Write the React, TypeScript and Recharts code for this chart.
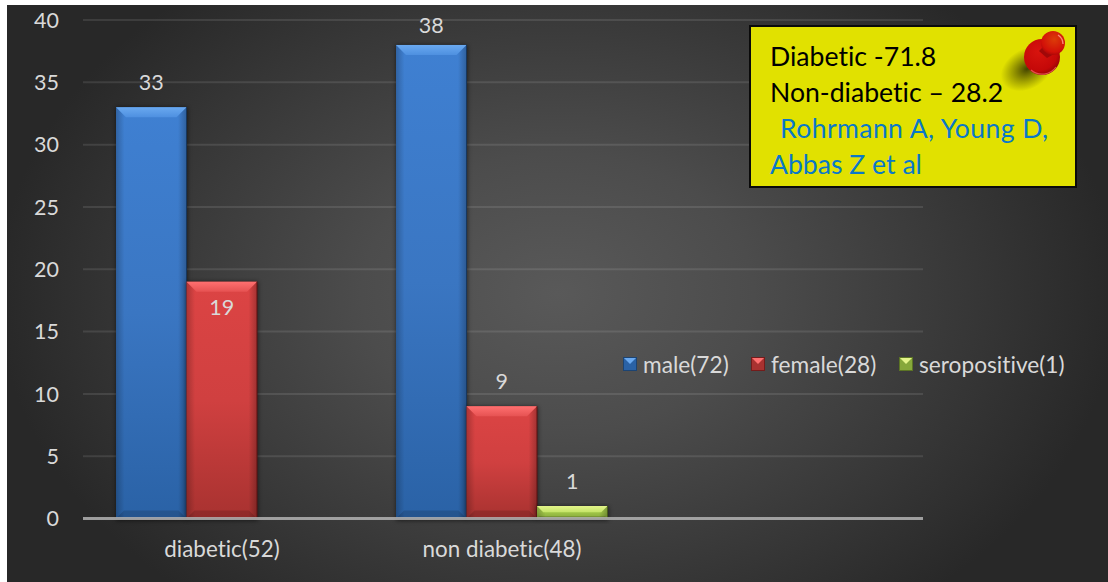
import React from 'react';
import { BarChart, Bar, XAxis, YAxis, CartesianGrid, LabelList, Legend } from 'recharts';

const categories = ['diabetic(52)', 'non diabetic(48)', ''];
const maleValues = [33, 38, null];
const femaleValues = [19, 9, null];
const seroValues = [null, 1, null];
const yTicks = [0, 5, 10, 15, 20, 25, 30, 35, 40];
const seriesNames = ['male(72)', 'female(28)', 'seropositive(1)'];
const noteLines = ['Diabetic -71.8', 'Non-diabetic – 28.2'];
const noteSource = ['Rohrmann A, Young D,', 'Abbas Z et al'];

const chartData = categories.map((name, i) => ({
  name,
  male: maleValues[i],
  female: femaleValues[i],
  sero: seroValues[i],
}));

const FONT = 'Lato, sans-serif';
const TEXT = '#d9d9d9';
const TICK_SIZE = 21.5;

const tones: Record<string, { top: string; mid: string; bottom: string; bevelA: string; bevelB: string; edge: string }> = {
  blue: { top: '#3f80d2', mid: '#3a76c2', bottom: '#2a62a6', bevelA: '#6aa9f0', bevelB: '#4e90e0', edge: '#17375e' },
  red: { top: '#dc4444', mid: '#d04040', bottom: '#a83230', bevelA: '#ff7070', bevelB: '#e65252', edge: '#5e1212' },
  green: { top: '#a9cf52', mid: '#a0c648', bottom: '#86a83a', bevelA: '#e4f58a', bevelB: '#c4e468', edge: '#4a5e1c' },
};

function BevelBar(props: any) {
  const { x, y, width, height, tone } = props;
  if (!height || height <= 0) return null;
  const c = tones[tone];
  const b = Math.min(10, height / 2);
  const bb = Math.min(8, height / 5);
  return (
    <g>
      <rect x={x} y={y} width={width + 1} height={height + 2} fill="#000" opacity={0.55} filter="url(#barShadow)" />
      <rect x={x} y={y} width={width} height={height} fill={`url(#body-${tone})`} />
      <rect x={x} y={y} width={width} height={height} fill="url(#sideShade)" />
      <polygon
        points={`${x},${y} ${x + width},${y} ${x + width - b},${y + b} ${x + b},${y + b}`}
        fill={`url(#bevel-${tone})`}
      />
      <polygon
        points={`${x},${y + height} ${x + width},${y + height} ${x + width - bb},${y + height - bb} ${x + bb},${y + height - bb}`}
        fill="#000"
        opacity={0.14}
      />
      <line x1={x + width} y1={y} x2={x + width} y2={y + height} stroke={c.edge} strokeWidth={1} />
    </g>
  );
}

// data labels sit above the bar, except where the original has them moved
function ValueLabel(props: any) {
  const { x, y, width, value } = props;
  if (value === null || value === undefined) return null;
  let cy = y - 25.5;
  if (value === 19) cy = y + 25;
  if (value === 38) cy = y - 20;
  return (
    <text
      x={x + width / 2}
      y={cy}
      textAnchor="middle"
      dominantBaseline="central"
      fill={TEXT}
      style={{ fontFamily: FONT, fontSize: TICK_SIZE, fontVariantLigatures: 'none' }}
    >
      {value}
    </text>
  );
}

function LegendSwatch({ tone }: { tone: string }) {
  const c = tones[tone];
  return (
    <svg width={14} height={14} style={{ display: 'block', flex: 'none' }}>
      <rect width={14} height={14} fill={c.bottom} />
      <rect x={0.5} y={0.5} width={13} height={13} fill="none" stroke={c.edge} strokeOpacity={0.7} />
      <polygon points="1,1 13,1 7,7" fill={c.bevelA} />
    </svg>
  );
}

function LegendContent() {
  const toneNames = ['blue', 'red', 'green'];
  const lefts = [0, 128, 276];
  return (
    <div style={{ position: 'relative', height: 26, fontFamily: FONT, fontSize: 22.7, color: TEXT, fontVariantLigatures: 'none' }}>
      {seriesNames.map((name, i) => (
        <div
          key={name}
          style={{ position: 'absolute', left: lefts[i], top: 0, display: 'flex', alignItems: 'center', height: 26, gap: 6, whiteSpace: 'nowrap' }}
        >
          <LegendSwatch tone={toneNames[i]} />
          <span>{name}</span>
        </div>
      ))}
    </div>
  );
}

function Pin() {
  return (
    <svg width={100} height={90} style={{ position: 'absolute', left: 250, top: 0 }}>
      <defs>
        <radialGradient id="pinShadow">
          <stop offset="0%" stopColor="#3c3c00" stopOpacity={0.95} />
          <stop offset="100%" stopColor="#4a4a00" stopOpacity={0} />
        </radialGradient>
        <radialGradient id="pinDisc" cx="0.4" cy="0.35" r="0.75">
          <stop offset="0%" stopColor="#d8140e" />
          <stop offset="70%" stopColor="#c40808" />
          <stop offset="100%" stopColor="#7e0404" />
        </radialGradient>
        <radialGradient id="pinKnob" cx="0.55" cy="0.35" r="0.7">
          <stop offset="0%" stopColor="#dc3c08" />
          <stop offset="75%" stopColor="#d21008" />
          <stop offset="100%" stopColor="#a00606" />
        </radialGradient>
      </defs>
      <ellipse cx={26} cy={42} rx={28} ry={20} fill="url(#pinShadow)" transform="rotate(-30 26 42)" />
      <circle cx={41} cy={30} r={18} fill="url(#pinDisc)" />
      <path d="M30 43 A17 17 0 0 0 55 40" fill="none" stroke="#f06060" strokeWidth={1.2} opacity={0.8} />
      <path d="M38 24 L46 31 L58 24 L50 12 Z" fill="#a00808" />
      <circle cx={52} cy={16} r={12} fill="url(#pinKnob)" />
      <path d="M57 8 A11 11 0 0 1 62 17" fill="none" stroke="#ff9a8a" strokeWidth={1.4} opacity={0.85} />
    </svg>
  );
}

function Note() {
  const lineStyle: React.CSSProperties = { height: 36, lineHeight: '36px', whiteSpace: 'nowrap' };
  return (
    <div
      style={{
        position: 'absolute',
        left: 749,
        top: 25,
        width: 328,
        height: 163,
        boxSizing: 'border-box',
        background: '#e1e100',
        border: '2px solid #0a0a0a',
        fontFamily: FONT,
        fontSize: 26.6,
        fontVariantLigatures: 'none',
        paddingLeft: 19,
        paddingTop: 11,
      }}
    >
      {noteLines.map((t) => (
        <div key={t} style={{ ...lineStyle, color: '#000' }}>{t}</div>
      ))}
      <div style={{ ...lineStyle, color: '#0a78c8', paddingLeft: 10, letterSpacing: 0.4 }}>{noteSource[0]}</div>
      <div style={{ ...lineStyle, color: '#0a78c8' }}>{noteSource[1]}</div>
      <Pin />
    </div>
  );
}

export default function App() {
  return (
    <div style={{ position: 'absolute', left: 0, top: 0, width: 1108, height: 582, background: '#fff', overflow: 'hidden' }}>
      <div
        style={{
          position: 'absolute',
          left: 7,
          top: 5,
          width: 1101,
          height: 577,
          background: 'radial-gradient(ellipse 560px 400px at 50% 50%, #595959 0%, #4c4c4c 35%, #363636 75%, #282828 100%)',
        }}
      >
        <BarChart
          width={1101}
          height={577}
          data={chartData}
          barGap={0}
          barSize={70.5}
          margin={{ top: 15, right: 185, bottom: 23.5, left: 16 }}
        >
          <defs>
            <filter id="barShadow" x="-20%" y="-20%" width="140%" height="140%">
              <feGaussianBlur stdDeviation="2" />
            </filter>
            <linearGradient id="sideShade" x1="0" y1="0" x2="1" y2="0">
              <stop offset="0%" stopColor="#000" stopOpacity={0.22} />
              <stop offset="12%" stopColor="#000" stopOpacity={0} />
              <stop offset="88%" stopColor="#000" stopOpacity={0} />
              <stop offset="100%" stopColor="#000" stopOpacity={0.25} />
            </linearGradient>
            {Object.entries(tones).map(([k, c]) => (
              <React.Fragment key={k}>
                <linearGradient id={`body-${k}`} x1="0" y1="0" x2="0" y2="1">
                  <stop offset="0%" stopColor={c.top} />
                  <stop offset="50%" stopColor={c.mid} />
                  <stop offset="100%" stopColor={c.bottom} />
                </linearGradient>
                <linearGradient id={`bevel-${k}`} x1="0" y1="0" x2="0" y2="1">
                  <stop offset="0%" stopColor={c.bevelA} />
                  <stop offset="100%" stopColor={c.bevelB} />
                </linearGradient>
              </React.Fragment>
            ))}
          </defs>
          <CartesianGrid vertical={false} stroke="#ffffff" strokeOpacity={0.1} strokeWidth={2} />
          <YAxis
            width={60}
            domain={[0, 40]}
            ticks={yTicks}
            interval={0}
            axisLine={false}
            tickLine={false}
            tickSize={0}
            tickMargin={24}
            tick={{ fill: TEXT, fontSize: TICK_SIZE, fontFamily: FONT }}
          />
          <Bar dataKey="male" name={seriesNames[0]} fill="#3a76c2" isAnimationActive={false} shape={(p: any) => <BevelBar {...p} tone="blue" />}>
            <LabelList dataKey="male" content={ValueLabel} />
          </Bar>
          <Bar dataKey="female" name={seriesNames[1]} fill="#d04040" isAnimationActive={false} shape={(p: any) => <BevelBar {...p} tone="red" />}>
            <LabelList dataKey="female" content={ValueLabel} />
          </Bar>
          <Bar dataKey="sero" name={seriesNames[2]} fill="#a0c648" isAnimationActive={false} shape={(p: any) => <BevelBar {...p} tone="green" />}>
            <LabelList dataKey="sero" content={ValueLabel} />
          </Bar>
          <XAxis
            dataKey="name"
            height={40}
            interval={0}
            padding={{ left: -1, right: 1 }}
            axisLine={{ stroke: '#b0b0b0', strokeWidth: 3, strokeOpacity: 0.85 }}
            tickLine={false}
            tickSize={0}
            tickMargin={23}
            tick={{ fill: TEXT, fontSize: 22.4, fontFamily: FONT, style: { fontVariantLigatures: 'none' } }}
          />
          <Legend
            layout="horizontal"
            verticalAlign="middle"
            content={<LegendContent />}
            wrapperStyle={{ position: 'absolute', left: 616, top: 346, width: 470, height: 26, margin: 0 }}
          />
        </BarChart>
      </div>
      <Note />
    </div>
  );
}
